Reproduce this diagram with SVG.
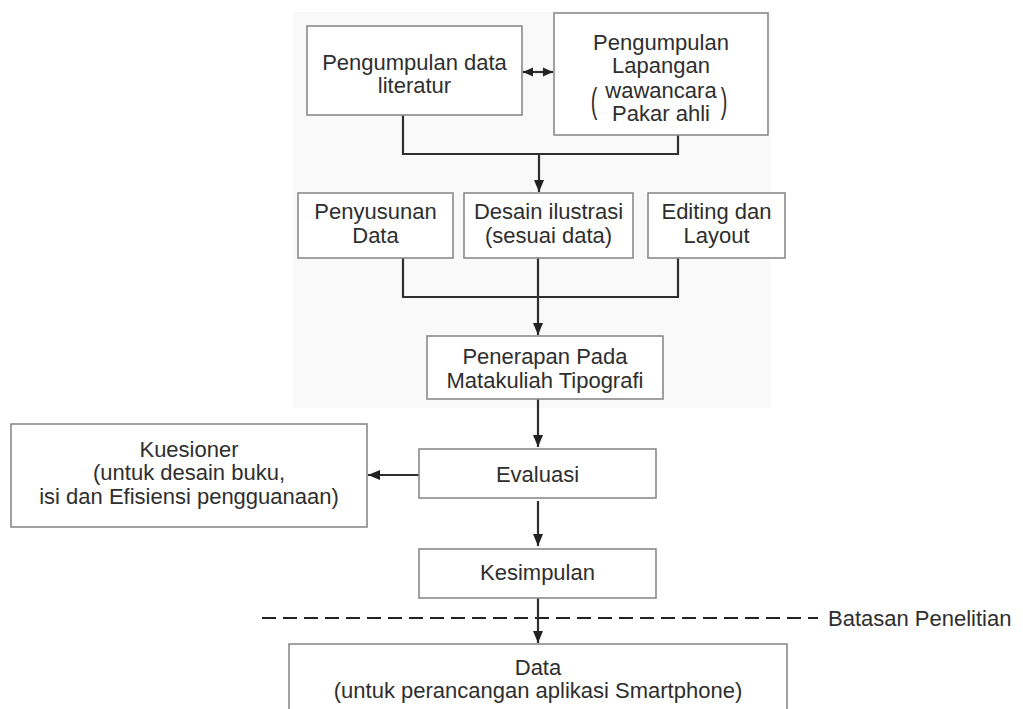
<svg xmlns="http://www.w3.org/2000/svg" width="1023" height="709" viewBox="0 0 1023 709">
<defs>
<style>
.box{fill:#ffffff;stroke:#8a8a8a;stroke-width:1.6}
.t{font-family:"Liberation Sans",Arial,sans-serif;font-size:22px;fill:#2e2e2e;text-anchor:middle}
.ln{fill:none;stroke:#2e2e2e;stroke-width:2.2}
.dash{fill:none;stroke:#222222;stroke-width:2.2;stroke-dasharray:14 7}
</style>
<marker id="ah" viewBox="0 0 12 12" refX="12" refY="6" markerWidth="12" markerHeight="12" markerUnits="userSpaceOnUse" orient="auto-start-reverse">
<path d="M0,1 L12,6 L0,11 Z" fill="#222222"/>
</marker>
<marker id="ahs" viewBox="0 0 10 10" refX="10" refY="5" markerWidth="10" markerHeight="10" markerUnits="userSpaceOnUse" orient="auto-start-reverse">
<path d="M0,0.5 L10,5 L0,9.5 Z" fill="#222222"/>
</marker>
</defs>
<rect x="0" y="0" width="1023" height="709" fill="#ffffff"/>
<rect x="293" y="12" width="478" height="396" fill="#f9f9f9"/>

<g id="connectors">
<line class="ln" x1="523" y1="72" x2="553" y2="72" marker-start="url(#ahs)" marker-end="url(#ahs)"/>
<polyline class="ln" points="403,115 403,154 678,154 678,135"/>
<line class="ln" x1="539" y1="154" x2="539" y2="192" marker-end="url(#ah)"/>
<polyline class="ln" points="403,258 403,297 678,297 678,258"/>
<line class="ln" x1="538" y1="258" x2="538" y2="335" marker-end="url(#ah)"/>
<line class="ln" x1="538" y1="399" x2="538" y2="447" marker-end="url(#ah)"/>
<line class="ln" x1="419" y1="475" x2="368" y2="475" marker-end="url(#ah)"/>
<line class="ln" x1="538" y1="501" x2="538" y2="546" marker-end="url(#ah)"/>
<line class="dash" x1="262" y1="618" x2="818" y2="618"/>
<line class="ln" x1="538" y1="598" x2="538" y2="643" marker-end="url(#ah)"/>
</g>

<g id="n-literatur">
<rect class="box" x="307" y="26" width="215" height="89"/>
<text class="t" x="414.5" y="70">Pengumpulan data</text>
<text class="t" x="414.5" y="93">literatur</text>
</g>

<g id="n-lapangan">
<rect class="box" x="554" y="13" width="214" height="122"/>
<text class="t" x="661" y="50">Pengumpulan</text>
<text class="t" x="661" y="73">Lapangan</text>
<text class="t" x="661" y="98">wawancara</text>
<text class="t" x="661" y="121">Pakar ahli</text>
<text class="t" transform="translate(594,113) scale(0.9,1.6)">(</text>
<text class="t" transform="translate(724,113) scale(0.9,1.6)">)</text>
</g>

<g id="n-penyusunan">
<rect class="box" x="298" y="193" width="155" height="65"/>
<text class="t" x="375.5" y="219">Penyusunan</text>
<text class="t" x="375.5" y="243">Data</text>
</g>

<g id="n-desain">
<rect class="box" x="464" y="193" width="169" height="65"/>
<text class="t" x="548.5" y="219">Desain ilustrasi</text>
<text class="t" x="548.5" y="243">(sesuai data)</text>
</g>

<g id="n-editing">
<rect class="box" x="648" y="193" width="137" height="65"/>
<text class="t" x="716.5" y="219">Editing dan</text>
<text class="t" x="716.5" y="243">Layout</text>
</g>

<g id="n-penerapan">
<rect class="box" x="427" y="336" width="236" height="63"/>
<text class="t" x="545" y="364">Penerapan Pada</text>
<text class="t" x="545" y="388">Matakuliah Tipografi</text>
</g>

<g id="n-kuesioner">
<rect class="box" x="11" y="424" width="356" height="103"/>
<text class="t" x="189" y="457">Kuesioner</text>
<text class="t" x="189" y="480">(untuk desain buku,</text>
<text class="t" x="189" y="504">isi dan Efisiensi pengguanaan)</text>
</g>

<g id="n-evaluasi">
<rect class="box" x="419" y="449" width="237" height="49"/>
<text class="t" x="537.5" y="482">Evaluasi</text>
</g>

<g id="n-kesimpulan">
<rect class="box" x="419" y="549" width="237" height="49"/>
<text class="t" x="537.5" y="580">Kesimpulan</text>
</g>

<g id="n-batasan">
<text class="t" x="828" y="626" style="text-anchor:start">Batasan Penelitian</text>
</g>

<g id="n-data">
<rect class="box" x="289" y="644" width="498" height="100"/>
<text class="t" x="538" y="675">Data</text>
<text class="t" x="538" y="698">(untuk perancangan aplikasi Smartphone)</text>
</g>
</svg>
